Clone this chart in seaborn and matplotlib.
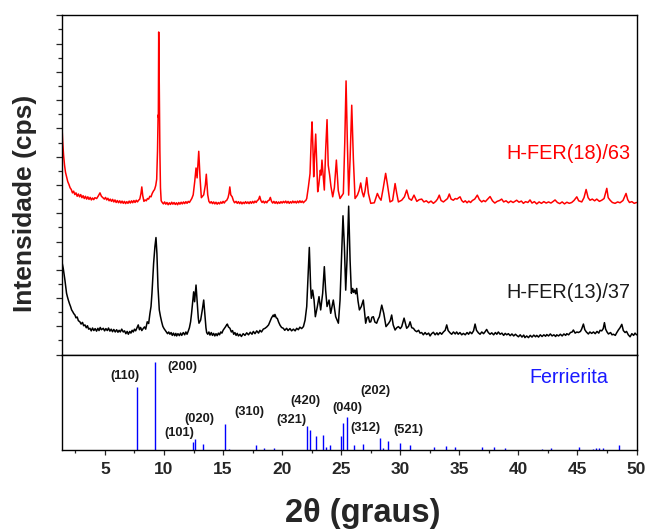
import numpy as np
import pandas as pd
import matplotlib
matplotlib.use("Agg")
import matplotlib.pyplot as plt
from matplotlib.ticker import MultipleLocator
import seaborn as sns

# ---------------- diffractogram H-FER(18)/63 (offset trace) ----------------
red_2theta = [
    1.35, 1.42, 1.5, 1.58, 1.66, 1.75, 1.85, 1.95, 2.05, 2.15, 2.25, 2.35, 2.45, 2.55, 2.65, 2.75,
    2.85, 2.95, 3.05, 3.15, 3.25, 3.35, 3.45, 3.55, 3.65, 3.75, 3.85, 3.95, 4.05, 4.15, 4.3, 4.45,
    4.58, 4.7, 4.82, 4.95, 5.05, 5.15, 5.25, 5.35, 5.45, 5.55, 5.65, 5.75, 5.85, 5.95, 6.05, 6.15,
    6.25, 6.35, 6.45, 6.55, 6.65, 6.75, 6.85, 6.95, 7.05, 7.15, 7.25, 7.35, 7.45, 7.55, 7.65, 7.75,
    7.85, 7.95, 8.05, 8.12, 8.2, 8.3, 8.4, 8.5, 8.6, 8.7, 8.8, 8.9, 9.0, 9.1, 9.2, 9.3,
    9.38, 9.45, 9.5, 9.52, 9.55, 9.6, 9.65, 9.7, 9.76, 9.85, 9.95, 10.05, 10.15, 10.25, 10.35, 10.45,
    10.55, 10.65, 10.75, 10.85, 10.95, 11.05, 11.15, 11.25, 11.35, 11.45, 11.55, 11.65, 11.75, 11.85, 11.95, 12.05,
    12.15, 12.25, 12.35, 12.47, 12.6, 12.71, 12.8, 12.94, 13.05, 13.16, 13.26, 13.36, 13.5, 13.58, 13.7, 13.8,
    13.9, 14.0, 14.1, 14.2, 14.3, 14.4, 14.5, 14.6, 14.7, 14.8, 14.9, 15.0, 15.1, 15.2, 15.3, 15.42,
    15.5, 15.57, 15.65, 15.77, 15.87, 15.97, 16.1, 16.2, 16.3, 16.4, 16.5, 16.6, 16.7, 16.8, 16.9, 17.0,
    17.1, 17.2, 17.3, 17.4, 17.5, 17.6, 17.7, 17.8, 17.9, 18.0, 18.1, 18.2, 18.3, 18.4, 18.5, 18.6,
    18.7, 18.8, 18.9, 19.0, 19.1, 19.2, 19.3, 19.4, 19.5, 19.6, 19.7, 19.8, 19.9, 20.0, 20.1, 20.2,
    20.3, 20.4, 20.5, 20.6, 20.7, 20.8, 20.9, 21.0, 21.1, 21.2, 21.3, 21.4, 21.5, 21.6, 21.7, 21.8,
    21.9, 22.0, 22.08, 22.22, 22.36, 22.46, 22.53, 22.6, 22.67, 22.74, 22.84, 22.92, 23.01, 23.1, 23.23, 23.3,
    23.37, 23.45, 23.57, 23.68, 23.8, 23.9, 24.02, 24.13, 24.28, 24.42, 24.59, 24.75, 24.9, 25.18, 25.3, 25.41,
    25.52, 25.63, 25.75, 25.89, 26.03, 26.17, 26.37, 26.51, 26.65, 26.77, 26.9, 27.02, 27.16, 27.3, 27.5, 27.8,
    28.06, 28.22, 28.37, 28.56, 28.76, 28.9, 29.13, 29.35, 29.56, 29.7, 29.84, 30.12, 30.35, 30.54, 30.74, 30.95,
    31.16, 31.4, 31.6, 31.81, 32.0, 32.2, 32.4, 32.6, 32.8, 33.0, 33.15, 33.3, 33.45, 33.65, 33.85, 34.0,
    34.15, 34.3, 34.49, 34.65, 34.8, 34.95, 35.06, 35.2, 35.35, 35.5, 35.65, 35.8, 35.95, 36.1, 36.3, 36.52,
    36.7, 36.89, 37.05, 37.2, 37.4, 37.6, 37.8, 38.0, 38.2, 38.4, 38.58, 38.75, 38.95, 39.15, 39.35, 39.55,
    39.85, 40.05, 40.25, 40.42, 40.6, 40.8, 40.98, 41.15, 41.35, 41.55, 41.75, 41.95, 42.15, 42.35, 42.55, 42.75,
    42.95, 43.1, 43.3, 43.5, 43.7, 43.9, 44.1, 44.3, 44.51, 44.7, 44.94, 45.1, 45.36, 45.55, 45.73, 45.9,
    46.06, 46.25, 46.45, 46.63, 46.85, 47.05, 47.25, 47.48, 47.6, 47.76, 47.95, 48.18, 48.4, 48.6, 48.85, 49.11,
    49.25, 49.4, 49.6, 49.8, 50.0,
]
red_counts = [
    8.20, 7.55, 7.05, 6.70, 6.45, 6.30, 6.12, 6.02, 5.90, 5.84, 5.72, 5.78, 5.66, 5.72, 5.60, 5.68,
    5.58, 5.66, 5.55, 5.62, 5.52, 5.60, 5.50, 5.58, 5.49, 5.56, 5.47, 5.54, 5.48, 5.55, 5.52, 5.62,
    5.72, 5.60, 5.55, 5.50, 5.56, 5.47, 5.53, 5.44, 5.50, 5.42, 5.49, 5.40, 5.47, 5.38, 5.45, 5.37,
    5.44, 5.36, 5.43, 5.35, 5.42, 5.34, 5.41, 5.35, 5.43, 5.36, 5.44, 5.37, 5.45, 5.38, 5.46, 5.40,
    5.46, 5.50, 5.70, 5.93, 5.62, 5.42, 5.47, 5.44, 5.52, 5.50, 5.60, 5.58, 5.70, 5.78, 5.84, 5.98,
    6.20, 7.20, 8.47, 8.40, 11.41, 9.50, 7.20, 5.90, 5.44, 5.38, 5.33, 5.40, 5.32, 5.38, 5.30, 5.37,
    5.31, 5.39, 5.32, 5.38, 5.31, 5.37, 5.30, 5.38, 5.32, 5.39, 5.33, 5.40, 5.34, 5.41, 5.35, 5.42,
    5.38, 5.45, 5.52, 5.65, 6.12, 6.60, 6.25, 7.19, 6.25, 5.55, 5.60, 5.65, 6.00, 6.38, 5.65, 5.42,
    5.36, 5.41, 5.34, 5.40, 5.33, 5.39, 5.32, 5.38, 5.33, 5.40, 5.35, 5.42, 5.36, 5.43, 5.45, 5.55,
    5.70, 5.93, 5.65, 5.58, 5.45, 5.37, 5.42, 5.35, 5.41, 5.34, 5.40, 5.33, 5.39, 5.34, 5.41, 5.35,
    5.40, 5.34, 5.41, 5.35, 5.42, 5.36, 5.43, 5.38, 5.45, 5.48, 5.60, 5.45, 5.38, 5.43, 5.36, 5.42,
    5.37, 5.44, 5.46, 5.56, 5.42, 5.36, 5.42, 5.35, 5.41, 5.34, 5.40, 5.35, 5.41, 5.36, 5.42, 5.37,
    5.43, 5.36, 5.42, 5.35, 5.41, 5.36, 5.43, 5.37, 5.42, 5.36, 5.43, 5.37, 5.44, 5.38, 5.43, 5.37,
    5.42, 5.45, 5.52, 5.93, 6.40, 7.60, 8.23, 7.40, 6.29, 7.00, 7.80, 6.80, 5.76, 6.00, 6.52, 6.35,
    6.88, 6.45, 5.82, 7.20, 8.31, 6.70, 6.35, 5.95, 5.58, 5.90, 6.88, 5.80, 5.52, 5.70, 7.50, 9.68,
    7.50, 5.64, 6.90, 8.82, 6.90, 5.52, 5.64, 5.80, 6.07, 5.76, 5.58, 5.80, 6.26, 5.70, 5.35, 5.37,
    5.70, 5.55, 5.46, 5.90, 6.41, 6.05, 5.40, 5.45, 6.05, 5.70, 5.40, 5.46, 5.58, 5.82, 5.52, 5.46,
    5.64, 5.42, 5.48, 5.50, 5.40, 5.44, 5.37, 5.43, 5.35, 5.42, 5.50, 5.64, 5.45, 5.40, 5.47, 5.52,
    5.68, 5.50, 5.46, 5.52, 5.50, 5.55, 5.58, 5.45, 5.39, 5.44, 5.37, 5.43, 5.38, 5.45, 5.50, 5.64,
    5.48, 5.40, 5.45, 5.41, 5.50, 5.59, 5.44, 5.36, 5.42, 5.45, 5.50, 5.40, 5.44, 5.37, 5.43, 5.38,
    5.46, 5.39, 5.43, 5.35, 5.41, 5.38, 5.47, 5.36, 5.41, 5.33, 5.40, 5.35, 5.41, 5.36, 5.40, 5.36,
    5.42, 5.47, 5.38, 5.34, 5.40, 5.33, 5.39, 5.35, 5.38, 5.45, 5.58, 5.44, 5.40, 5.55, 5.84, 5.55,
    5.46, 5.50, 5.44, 5.50, 5.42, 5.46, 5.52, 5.88, 5.55, 5.46, 5.38, 5.35, 5.40, 5.37, 5.45, 5.70,
    5.48, 5.38, 5.41, 5.35, 5.38,
]

# ---------------- diffractogram H-FER(13)/37 ----------------
black_2theta = [
    1.33, 1.4, 1.47, 1.54, 1.61, 1.68, 1.75, 1.82, 1.9, 2.0, 2.09, 2.18, 2.27, 2.36, 2.46, 2.55,
    2.65, 2.75, 2.88, 2.98, 3.1, 3.2, 3.31, 3.42, 3.52, 3.62, 3.73, 3.84, 3.95, 4.06, 4.17, 4.29,
    4.4, 4.5, 4.6, 4.7, 4.86, 4.97, 5.08, 5.2, 5.3, 5.42, 5.53, 5.64, 5.75, 5.87, 5.99, 6.1,
    6.2, 6.3, 6.42, 6.55, 6.66, 6.77, 6.88, 6.98, 7.1, 7.2, 7.3, 7.4, 7.5, 7.6, 7.72, 7.82,
    7.92, 8.02, 8.12, 8.25, 8.35, 8.45, 8.58, 8.7, 8.81, 8.9, 8.98, 9.05, 9.12, 9.23, 9.32, 9.4,
    9.49, 9.6, 9.7, 9.8, 9.9, 10.0, 10.08, 10.2, 10.3, 10.4, 10.5, 10.6, 10.7, 10.8, 10.9, 11.0,
    11.07, 11.18, 11.3, 11.4, 11.5, 11.63, 11.75, 11.85, 11.95, 12.06, 12.15, 12.25, 12.33, 12.4, 12.51, 12.59,
    12.71, 12.82, 12.9, 12.96, 13.1, 13.24, 13.36, 13.47, 13.55, 13.61, 13.7, 13.8, 13.89, 14.0, 14.1, 14.2,
    14.3, 14.4, 14.5, 14.6, 14.7, 14.8, 14.9, 15.0, 15.1, 15.2, 15.3, 15.36, 15.45, 15.58, 15.7, 15.8,
    15.9, 16.0, 16.1, 16.2, 16.3, 16.43, 16.55, 16.7, 16.85, 17.0, 17.15, 17.3, 17.45, 17.56, 17.7, 17.85,
    18.0, 18.12, 18.25, 18.4, 18.55, 18.7, 18.85, 18.97, 19.1, 19.25, 19.32, 19.39, 19.5, 19.59, 19.7, 19.82,
    19.95, 20.1, 20.22, 20.38, 20.5, 20.66, 20.8, 20.95, 21.1, 21.23, 21.37, 21.5, 21.65, 21.8, 21.94, 22.08,
    22.19, 22.3, 22.41, 22.47, 22.58, 22.7, 22.81, 22.98, 23.12, 23.26, 23.43, 23.57, 23.68, 23.8, 23.97, 24.11,
    24.33, 24.53, 24.76, 24.9, 25.04, 25.15, 25.27, 25.38, 25.49, 25.63, 25.75, 25.86, 25.97, 26.05, 26.14, 26.22,
    26.31, 26.42, 26.54, 26.7, 26.87, 27.07, 27.18, 27.3, 27.4, 27.5, 27.6, 27.72, 27.85, 28.0, 28.12, 28.23,
    28.43, 28.6, 28.79, 29.02, 29.15, 29.27, 29.4, 29.56, 29.7, 29.84, 30.0, 30.12, 30.32, 30.54, 30.7, 30.83,
    30.97, 31.11, 31.25, 31.39, 31.55, 31.67, 31.81, 31.95, 32.1, 32.23, 32.4, 32.52, 32.65, 32.8, 32.95, 33.1,
    33.2, 33.36, 33.5, 33.65, 33.8, 33.93, 34.05, 34.21, 34.35, 34.5, 34.65, 34.77, 34.9, 35.05, 35.2, 35.34,
    35.5, 35.65, 35.78, 35.9, 36.05, 36.2, 36.33, 36.45, 36.61, 36.75, 36.9, 37.05, 37.2, 37.31, 37.45, 37.6,
    37.74, 37.9, 38.05, 38.17, 38.3, 38.45, 38.6, 38.75, 38.88, 39.01, 39.15, 39.3, 39.45, 39.6, 39.75, 39.85,
    40.0, 40.15, 40.3, 40.45, 40.55, 40.7, 40.85, 41.0, 41.15, 41.3, 41.45, 41.55, 41.7, 41.85, 42.0, 42.15,
    42.3, 42.4, 42.55, 42.7, 42.85, 43.0, 43.15, 43.24, 43.4, 43.55, 43.7, 43.85, 44.0, 44.09, 44.25, 44.4,
    44.55, 44.65, 44.8, 44.95, 45.08, 45.25, 45.35, 45.5, 45.62, 45.75, 45.92, 46.05, 46.2, 46.35, 46.5, 46.65,
    46.8, 46.91, 47.05, 47.18, 47.28, 47.38, 47.5, 47.62, 47.8, 47.92, 48.04, 48.2, 48.3, 48.46, 48.6, 48.75,
    48.88, 49.03, 49.15, 49.3, 49.45, 49.6, 49.75, 49.87, 50.0,
]
black_counts = [
    3.34, 3.20, 3.05, 2.85, 2.64, 2.40, 2.17, 2.05, 1.93, 1.80, 1.70, 1.58, 1.52, 1.45, 1.40, 1.30,
    1.33, 1.20, 1.16, 1.08, 1.14, 1.02, 1.05, 0.95, 1.02, 0.90, 0.93, 0.84, 0.94, 0.85, 0.92, 0.83,
    0.93, 0.85, 0.96, 0.88, 0.93, 0.84, 0.92, 0.85, 0.94, 0.83, 0.90, 0.81, 0.89, 0.80, 0.88, 0.79,
    0.86, 0.80, 0.90, 0.80, 0.84, 0.74, 0.82, 0.72, 0.82, 0.76, 0.86, 0.80, 0.90, 0.84, 0.96, 1.05,
    0.88, 0.96, 0.85, 0.93, 0.98, 0.90, 1.16, 1.10, 1.46, 1.70, 2.17, 2.70, 3.23, 3.82, 4.14, 3.57,
    2.39, 1.58, 1.35, 1.16, 1.00, 0.92, 0.87, 0.80, 0.74, 0.80, 0.72, 0.78, 0.68, 0.76, 0.67, 0.75,
    0.66, 0.74, 0.67, 0.76, 0.68, 0.78, 0.70, 0.80, 0.72, 0.84, 0.95, 1.16, 1.45, 1.75, 2.22, 1.87,
    2.46, 1.81, 1.30, 1.11, 1.22, 1.58, 1.93, 1.34, 0.95, 0.78, 0.72, 0.80, 0.69, 0.78, 0.68, 0.75,
    0.66, 0.74, 0.67, 0.76, 0.70, 0.80, 0.76, 0.86, 0.92, 0.98, 1.05, 1.08, 0.98, 0.93, 0.80, 0.85,
    0.72, 0.78, 0.68, 0.75, 0.66, 0.72, 0.64, 0.74, 0.68, 0.77, 0.70, 0.79, 0.72, 0.82, 0.74, 0.84,
    0.76, 0.86, 0.80, 0.90, 0.93, 0.98, 1.05, 1.17, 1.30, 1.40, 1.34, 1.42, 1.30, 1.28, 1.15, 1.04,
    0.96, 0.93, 0.86, 0.93, 0.85, 0.92, 0.84, 0.90, 0.84, 0.93, 0.88, 0.97, 0.92, 0.99, 1.22, 1.70,
    2.75, 3.79, 2.40, 1.99, 2.28, 1.93, 1.34, 1.70, 2.05, 1.58, 2.17, 3.11, 2.28, 1.70, 1.93, 1.46,
    1.93, 1.34, 1.11, 1.93, 3.58, 4.91, 3.80, 2.28, 3.34, 5.25, 3.34, 2.17, 2.34, 2.20, 2.28, 2.15,
    2.34, 1.90, 1.58, 1.70, 1.93, 1.11, 1.30, 1.34, 1.15, 1.16, 1.32, 1.34, 1.15, 1.11, 1.25, 1.34,
    1.75, 1.46, 0.99, 1.11, 1.20, 1.40, 1.05, 0.87, 0.95, 0.99, 0.92, 0.99, 1.29, 0.93, 1.00, 1.16,
    0.95, 0.93, 0.85, 0.81, 0.86, 0.76, 0.78, 0.70, 0.78, 0.71, 0.76, 0.66, 0.74, 0.79, 0.70, 0.77,
    0.70, 0.78, 0.72, 0.80, 0.86, 1.05, 0.85, 0.77, 0.72, 0.80, 0.73, 0.80, 0.72, 0.78, 0.70, 0.75,
    0.70, 0.78, 0.72, 0.80, 0.74, 0.84, 1.08, 0.86, 0.77, 0.72, 0.80, 0.74, 0.82, 0.89, 0.78, 0.72,
    0.77, 0.70, 0.78, 0.72, 0.80, 0.72, 0.76, 0.68, 0.75, 0.70, 0.74, 0.67, 0.73, 0.66, 0.72, 0.68,
    0.63, 0.70, 0.62, 0.69, 0.60, 0.66, 0.60, 0.68, 0.62, 0.69, 0.63, 0.68, 0.62, 0.70, 0.64, 0.70,
    0.65, 0.71, 0.66, 0.73, 0.66, 0.70, 0.64, 0.70, 0.66, 0.72, 0.66, 0.73, 0.68, 0.74, 0.70, 0.78,
    0.80, 0.87, 0.76, 0.80, 0.78, 0.82, 0.90, 1.08, 0.88, 0.80, 0.73, 0.80, 0.75, 0.80, 0.74, 0.82,
    0.76, 0.86, 0.84, 0.92, 1.13, 0.90, 0.80, 0.73, 0.78, 0.70, 0.72, 0.68, 0.76, 0.87, 0.95, 1.07,
    0.85, 0.78, 0.82, 0.70, 0.63, 0.74, 0.68, 0.76, 0.70,
]

# ---------------- reference pattern: Ferrierita ----------------
ref_2theta = [7.73, 9.20, 12.45, 12.62, 13.33, 15.19, 15.53, 17.82, 18.47, 19.33,
              22.13, 22.36, 22.84, 23.43, 23.70, 24.02, 24.98, 25.18, 25.49, 26.08,
              26.85, 28.29, 28.50, 29.00, 30.00, 30.82, 32.86, 33.85, 34.66, 36.95,
              37.97, 38.85, 42.00, 42.74, 45.16, 46.35, 46.60, 46.80, 47.20, 48.55]
ref_intensity = [71.5, 100.0, 8.8, 12.6, 6.8, 28.9, 1.2, 4.9, 1.7, 1.7,
                 26.6, 22.1, 15.2, 17.1, 3.0, 5.7, 16.0, 30.4, 37.3, 5.7,
                 6.1, 13.7, 1.5, 9.5, 7.2, 4.9, 2.7, 3.8, 2.6, 2.6,
                 3.0, 1.7, 1.2, 2.2, 3.0, 1.2, 1.5, 1.7, 1.7, 4.9]

hkl_labels = ["(110)", "(200)", "(101)", "(020)", "(310)", "(321)",
              "(420)", "(040)", "(202)", "(312)", "(521)"]
hkl_x = [6.72, 11.58, 11.27, 12.99, 17.2, 20.8, 21.98, 25.52, 27.86, 27.04, 30.69]
hkl_y = [83.7, 94.3, 19.4, 34.6, 42.2, 33.1, 55.1, 46.8, 66.9, 24.7, 22.8]

x_ticks = [5, 10, 15, 20, 25, 30, 35, 40, 45, 50]

sns.set_style("white")
plt.rcParams["font.family"] = ["Liberation Sans", "DejaVu Sans"]
plt.rcParams["axes.linewidth"] = 1.0

fig = plt.figure(figsize=(6.46, 5.32), dpi=100)
gs = fig.add_gridspec(2, 1, height_ratios=[339.3, 95.0], hspace=0.0,
                      left=0.0957, right=0.9854, top=0.9712, bottom=0.1549)
ax_top = fig.add_subplot(gs[0])
ax_bot = fig.add_subplot(gs[1], sharex=ax_top)

red_df = pd.DataFrame({"2theta": red_2theta, "I": red_counts})
black_df = pd.DataFrame({"2theta": black_2theta, "I": black_counts})

sns.lineplot(data=black_df, x="2theta", y="I", ax=ax_top, color="black",
             lw=1.1, estimator=None, sort=False)
sns.lineplot(data=red_df, x="2theta", y="I", ax=ax_top, color="#ff0000",
             lw=1.1, estimator=None, sort=False)

ax_top.text(49.45, 7.13, "H-FER(18)/63", color="#ff0000", fontsize=14.3,
            ha="right", va="center")
ax_top.text(49.5, 2.19, "H-FER(13)/37", color="#1a1a1a", fontsize=14.3,
            ha="right", va="center")

ax_top.set_xlim(1.35, 50)
ax_top.set_ylim(0, 12)
ax_top.yaxis.set_major_locator(MultipleLocator(1))
ax_top.yaxis.set_minor_locator(MultipleLocator(0.5))
ax_top.tick_params(axis="y", which="major", direction="out", length=4.3, width=0.9,
                   left=True, labelleft=False)
ax_top.tick_params(axis="y", which="minor", direction="out", length=2.8, width=0.9,
                   left=True)
ax_top.tick_params(axis="x", which="both", bottom=False, labelbottom=False)
ax_top.set_xlabel("")
ax_top.set_ylabel("")

# stick pattern of the reference phase
ax_bot.vlines(ref_2theta, 0, ref_intensity, colors="#0000ff", lw=1.0)
for lab, lx, ly in zip(hkl_labels, hkl_x, hkl_y):
    ax_bot.text(lx, ly, lab, fontsize=9.3, fontweight="bold", ha="center",
                va="center", color="#1a1a1a")
ax_bot.text(44.24, 81.7, "Ferrierita", color="#1a1aff", fontsize=14.1,
            ha="center", va="center")
ax_bot.set_ylim(0, 108)
ax_bot.set_yticks([])
ax_bot.set_xticks(x_ticks)
ax_bot.xaxis.set_minor_locator(MultipleLocator(2.5))
ax_bot.tick_params(axis="x", which="major", direction="out", length=3.8, width=0.9,
                   bottom=True, labelsize=12.5, pad=5)
ax_bot.tick_params(axis="x", which="minor", direction="out", length=2.3, width=0.9,
                   bottom=True)
for lbl in ax_bot.get_xticklabels():
    lbl.set_fontweight("bold")
ax_bot.set_xlabel("")
ax_bot.set_ylabel("")

for ax in (ax_top, ax_bot):
    for sp in ax.spines.values():
        sp.set_visible(True)
        sp.set_color("black")
        sp.set_linewidth(1.0)

fig.text(0.039, 1 - 203 / 532, "Intensidade (cps)", rotation=90, fontsize=19,
         fontweight="bold", ha="center", va="center")
fig.text(0.561, 0.018, "2\u03b8 (graus)", fontsize=23.5, fontweight="bold",
         ha="center", va="baseline")

fig.savefig("out.png", dpi=100)
